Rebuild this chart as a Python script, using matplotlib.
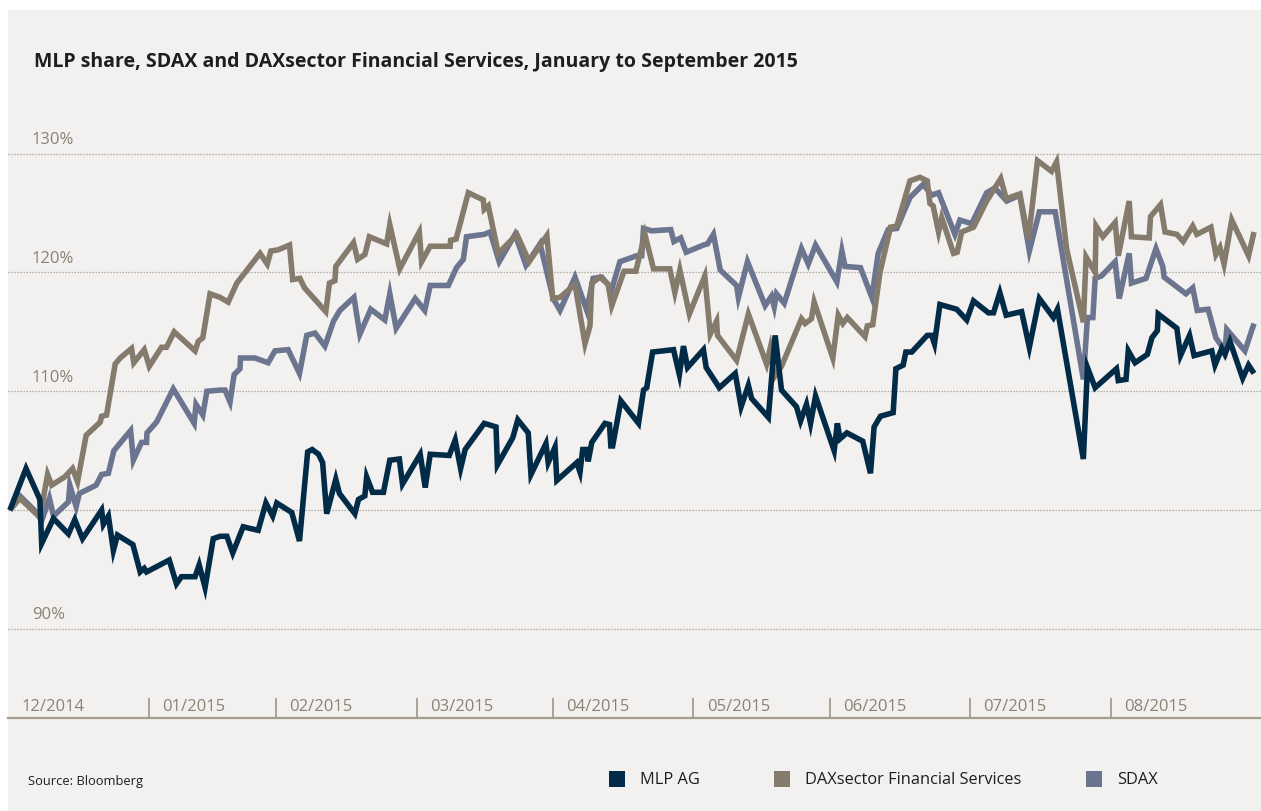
import matplotlib
matplotlib.use("Agg")
import matplotlib.pyplot as plt
import matplotlib.patches as mpatches
import matplotlib.transforms as mtransforms

plt.rcParams["font.family"] = ["Open Sans", "DejaVu Sans"]

# Days counted from 31 Dec 2014, values in % of the start level
mlp_days = [1.4, 4.95, 8.0, 8.4, 11.0, 14.3, 15.7, 17.4, 21.6, 22.0, 23.1, 24.2, 25.1, 28.5, 30.1, 31.0,
            31.5, 36.5, 38.1, 39.2, 42.2, 43.1, 44.4, 46.2, 47.7, 49.2, 50.5, 52.8, 56.1, 57.8, 59.3, 60.2,
            63.5, 65.2, 67.0, 68.0, 69.4, 70.3, 71.2, 73.2, 74.0, 77.4, 78.2, 79.6, 80.0, 81.3, 83.7, 85.1,
            87.2, 87.9, 91.8, 92.9, 94.0, 98.2, 99.5, 100.7, 101.7, 105.9, 108.5, 108.8, 112.2, 113.3, 115.6,
            116.2, 119.5, 120.0, 121.5, 121.9, 126.3, 127.0, 127.6, 128.5, 128.8, 129.6, 132.5, 133.5, 133.8,
            134.2, 136.0, 139.9, 141.0, 141.7, 143.0, 147.6, 148.9, 149.8, 150.7, 154.2, 154.8, 157.7, 161.2,
            162.5, 164.1, 164.8, 168.5, 170.0, 171.4, 174.7, 175.6, 176.9, 177.8, 178.9, 183.0, 183.7, 184.3,
            185.8, 189.3, 191.0, 191.8, 193.2, 196.0, 196.6, 198.2, 198.8, 200.1, 203.5, 204.5, 205.1, 206.3,
            210.0, 212.2, 213.7, 217.0, 218.1, 219.5, 220.9, 224.3, 226.0, 228.2, 231.3, 232.2, 237.9, 238.8,
            240.5, 245.2, 245.6, 247.3, 247.8, 249.3, 252.0, 253.0, 254.2, 254.4, 258.5, 259.3, 261.3, 262.3,
            266.2, 266.9, 268.4, 269.1, 270.2, 273.0, 274.3, 275.5]
mlp_vals = [100.0, 103.5, 100.9, 97.2, 99.3, 98.0, 99.2, 97.6, 100.0, 98.8, 99.5, 96.6, 97.9, 97.1, 94.8, 95.1,
            94.8, 95.8, 93.8, 94.4, 94.4, 95.4, 93.5, 97.6, 97.8, 97.8, 96.4, 98.6, 98.3, 100.6, 99.5, 100.6,
            99.8, 97.4, 104.9, 105.1, 104.7, 104.0, 99.7, 102.6, 101.4, 99.7, 100.9, 101.2, 102.8, 101.5, 101.5, 104.2,
            104.3, 102.2, 104.7, 101.9, 104.7, 104.6, 105.9, 103.5, 105.1, 107.3, 107.0, 103.8, 106.1, 107.6, 106.5,
            103.0, 105.6, 104.0, 105.3, 102.5, 104.0, 103.2, 105.1, 105.1, 104.1, 105.7, 107.3, 107.2, 105.4,
            105.4, 109.2, 107.3, 110.1, 110.3, 113.3, 113.5, 111.4, 113.8, 112.0, 113.5, 112.0, 110.3, 111.5,
            108.7, 110.5, 109.4, 107.8, 114.7, 110.1, 108.7, 107.5, 108.9, 107.3, 109.6, 105.0, 107.3, 106.0,
            106.5, 105.8, 103.1, 107.0, 107.9, 108.2, 111.9, 112.2, 113.3, 113.3, 114.7, 114.7, 114.0, 117.3,
            116.9, 116.0, 117.6, 116.6, 116.6, 118.3, 116.4, 116.7, 113.7, 117.8, 116.2, 116.9, 104.3, 112.0,
            110.3, 111.9, 110.9, 111.0, 113.4, 112.4, 113.1, 114.5, 115.1, 116.5, 115.3, 113.0, 114.7, 113.0,
            113.4, 112.2, 113.6, 113.1, 114.2, 111.1, 112.2, 111.5]

sdax_days = [1.4, 3.6, 7.3, 8.4, 10.1, 11.0, 14.3, 14.6, 16.0, 16.7, 20.4, 21.6, 23.1, 24.3, 28.0, 28.6,
             30.4, 31.5, 31.6, 33.7, 37.4, 42.0, 42.4, 43.9, 44.8, 47.7, 48.8, 49.9, 50.8, 52.1, 52.2, 55.4,
             58.3, 59.8, 62.7, 65.2, 66.8, 68.6, 70.8, 72.7, 74.1, 77.2, 78.5, 80.9, 84.0, 85.1, 86.5, 90.7,
             92.8, 94.0, 98.0, 99.8, 101.3, 102.0, 105.9, 107.2, 109.2, 112.7, 115.1, 118.2, 121.1, 122.6,
             125.9, 128.5, 129.9, 131.8, 134.0, 135.8, 139.5, 140.6, 141.0, 142.8, 147.0, 147.7, 149.2, 150.4,
             154.2, 155.1, 156.4, 157.9, 161.5, 161.9, 163.9, 167.8, 169.2, 169.8, 170.3, 172.0, 175.8, 177.3,
             178.9, 183.6, 184.7, 185.4, 188.8, 191.3, 192.7, 194.9, 196.8, 199.7, 202.6, 204.5, 206.0, 209.6,
             210.7, 213.3, 216.6, 218.4, 221.0, 223.9, 226.0, 228.2, 231.7, 237.9, 238.8, 240.0, 240.5, 241.9,
             244.9, 245.8, 248.0, 248.5, 251.7, 253.9, 255.4, 255.7, 260.5, 262.0, 263.0, 265.4, 267.1, 269.1,
             269.5, 273.5, 275.5]
sdax_vals = [100.0, 101.2, 99.8, 99.1, 101.0, 99.5, 100.7, 102.1, 100.3, 101.4, 102.1, 103.0, 103.1, 105.0, 106.7, 104.2,
             105.7, 105.7, 106.5, 107.4, 110.2, 107.3, 108.9, 108.0, 110.0, 110.1, 110.1, 109.1, 111.4, 111.9, 112.8, 112.8,
             112.4, 113.4, 113.5, 111.5, 114.7, 114.9, 113.8, 115.9, 116.8, 117.9, 114.8, 116.9, 116.0, 118.2, 115.3, 117.8,
             116.8, 118.9, 118.9, 120.4, 121.1, 123.0, 123.2, 123.4, 120.9, 123.2, 120.6, 122.4, 117.8, 116.8,
             119.6, 116.8, 119.5, 119.6, 118.6, 120.9, 121.4, 121.4, 123.7, 123.5, 123.6, 122.6, 122.9, 121.7,
             122.3, 122.4, 123.2, 120.2, 118.9, 117.9, 120.9, 117.2, 118.0, 117.1, 118.2, 117.4, 122.0, 120.7,
             122.3, 119.2, 121.8, 120.5, 120.4, 117.9, 121.6, 123.6, 123.7, 126.3, 127.4, 126.5, 126.7, 123.2,
             124.4, 124.1, 126.7, 127.1, 126.0, 126.5, 121.8, 125.1, 125.1, 111.0, 116.2, 116.2, 119.5, 119.7,
             120.9, 117.8, 121.6, 119.1, 119.5, 122.0, 120.5, 119.6, 118.2, 118.7, 116.8, 116.9, 114.5, 113.4,
             115.2, 113.4, 115.7]

dax_days = [1.4, 3.6, 8.0, 9.7, 10.6, 13.5, 15.2, 16.3, 18.2, 21.3, 21.6, 22.7, 24.6, 25.7, 28.2, 28.7,
            31.0, 32.1, 34.8, 35.9, 37.6, 42.2, 42.9, 43.9, 45.5, 47.7, 49.5, 51.4, 56.5, 58.1, 58.9, 60.5,
            63.0, 63.7, 65.3, 66.3, 71.0, 71.8, 73.0, 73.2, 77.1, 78.0, 79.6, 80.6, 84.4, 85.1, 87.3, 91.6,
            92.1, 94.0, 98.4, 98.5, 99.7, 102.4, 105.7, 105.9, 106.8, 109.0, 113.1, 115.8, 119.7, 121.0,
            122.6, 125.9, 128.1, 129.2, 129.6, 131.4, 133.2, 134.0, 136.7, 139.3, 141.3, 143.2, 146.8, 147.9,
            149.0, 151.1, 154.5, 155.7, 157.1, 157.3, 161.5, 164.1, 168.1, 168.9, 169.8, 171.4, 175.8, 176.6,
            178.0, 178.6, 182.7, 183.9, 184.9, 185.9, 189.8, 190.3, 191.5, 193.1, 195.4, 196.8, 199.7, 201.9,
            203.5, 204.1, 204.8, 206.0, 206.7, 209.3, 210.1, 211.1, 213.7, 216.6, 219.7, 220.9, 223.9, 225.8,
            227.8, 230.9, 232.0, 234.2, 237.9, 238.5, 240.5, 240.7, 242.2, 244.9, 245.6, 248.0, 248.5, 252.4,
            252.7, 254.9, 255.9, 258.5, 259.9, 262.0, 262.9, 266.0, 267.1, 268.0, 268.9, 270.6, 274.3, 275.5]
dax_vals = [100.0, 101.0, 99.4, 103.0, 102.1, 102.8, 103.5, 102.4, 106.3, 107.4, 107.9, 108.0, 112.3, 112.8, 113.6, 112.4,
            113.5, 112.1, 113.7, 113.7, 115.0, 113.4, 114.2, 114.5, 118.2, 117.9, 117.5, 119.1, 121.6, 120.7, 121.8, 121.9,
            122.3, 119.4, 119.5, 118.7, 116.7, 119.1, 119.3, 120.5, 122.5, 121.1, 121.5, 123.0, 122.4, 124.0, 120.3, 123.4,
            120.9, 122.2, 122.2, 122.7, 122.8, 126.7, 126.1, 125.3, 125.6, 121.6, 123.2, 120.9, 123.1, 117.8,
            117.9, 119.0, 114.0, 115.5, 119.1, 119.6, 119.0, 117.2, 120.1, 120.1, 123.2, 120.3, 120.3, 118.3,
            120.2, 116.5, 119.7, 114.8, 115.9, 114.7, 112.6, 116.5, 112.3, 113.6, 111.2, 112.1, 116.1, 115.7,
            116.1, 117.5, 112.8, 116.4, 115.7, 116.2, 114.6, 115.5, 115.6, 120.0, 123.8, 123.9, 127.7, 128.0,
            127.7, 125.8, 125.6, 123.4, 124.6, 121.6, 121.7, 123.4, 123.8, 126.0, 127.9, 126.2, 126.6, 122.8,
            129.4, 128.5, 129.3, 122.0, 115.8, 121.3, 120.0, 123.9, 123.0, 124.2, 121.4, 126.0, 123.0, 122.9,
            124.7, 125.7, 123.4, 123.2, 122.6, 123.9, 123.2, 123.8, 121.5, 122.1, 120.7, 124.4, 121.4, 123.4]

grid_levels = [90, 100, 110, 120, 130]
label_levels = [90, 110, 120, 130]
month_starts = [32, 60, 91, 121, 152, 182, 213, 244]
month_labels = ["12/2014", "01/2015", "02/2015", "03/2015", "04/2015",
                "05/2015", "06/2015", "07/2015", "08/2015"]

C_MLP = "#022b47"
C_DAX = "#857b6c"
C_SDAX = "#6c758f"
C_BG = "#f2f1ef"
C_TXT = "#8b8273"
C_AXIS = "#a49b8c"

W, H = 1261, 812
fig = plt.figure(figsize=(W / 100, H / 100), dpi=100)
fig.patch.set_facecolor("white")
fig.patches.append(mpatches.Rectangle((8 / W, 0), 1 - 8 / W, 1 - 11 / H, transform=fig.transFigure,
                                      facecolor=C_BG, edgecolor="none", zorder=-10))

ax = fig.add_axes([0, 0, 1, 1])
ax.set_facecolor("none")
ax.set_xlim(-0.78, 277.04)
ax.set_ylim(74.69, 143.0)
ax.axis("off")

def fx(px):
    return px / W

def fy(py):
    return 1 - py / H

# dotted grid
for lv in grid_levels:
    ax.axhline(lv, xmin=fx(8), xmax=1, color="#a29b90", linewidth=0.9,
               linestyle=(0, (1, 1.4)), zorder=1)
for lv in label_levels:
    ax.annotate(f"{lv}%", xy=(fx(32), lv), xycoords=("figure fraction", "data"),
                xytext=(0, 10.6), textcoords="offset points", ha="left", va="center",
                fontsize=12, color=C_TXT)

# lines
common = dict(linewidth=4.0, solid_joinstyle="miter", solid_capstyle="butt", zorder=3)
ax.plot(sdax_days, sdax_vals, color=C_SDAX, **common)
ax.plot(dax_days, dax_vals, color=C_DAX, **common)
ax.plot(mlp_days, mlp_vals, color=C_MLP, **common)

# x axis with month separators
fig.add_artist(plt.Line2D([fx(8), 1], [fy(719), fy(719)], color=C_AXIS, linewidth=1.6))
trans = mtransforms.blended_transform_factory(ax.transData, fig.transFigure)
for d in month_starts:
    ax.plot([d, d], [fy(700), fy(719)], transform=trans, color=C_AXIS, linewidth=1.3, clip_on=False)
fig.text(fx(22), fy(707), month_labels[0], ha="left", va="center", fontsize=12, color=C_TXT)
for d, lab in zip(month_starts, month_labels[1:]):
    ax.annotate(lab, xy=(d, fy(707)), xycoords=trans, xytext=(9.5, 0), textcoords="offset points",
                ha="left", va="center", fontsize=12, color=C_TXT)

# title and source
fig.text(fx(34), fy(62), "MLP share, SDAX and DAXsector Financial Services, January to September 2015",
         ha="left", va="center", fontsize=14, fontweight="bold", color="#1e1e1e")
fig.text(fx(28), fy(782), "Source: Bloomberg", ha="left", va="center", fontsize=9.3, color="#1e1e1e")

# legend
legend_items = [("MLP AG", C_MLP, 609), ("DAXsector Financial Services", C_DAX, 774), ("SDAX", C_SDAX, 1086)]
for name, col, x0 in legend_items:
    fig.patches.append(mpatches.Rectangle((fx(x0), fy(788)), 16 / W, 16 / H, transform=fig.transFigure,
                                          facecolor=col, edgecolor="none"))
    fig.text(fx(x0 + 31), fy(780), name, ha="left", va="center", fontsize=11.8, color="#1e1e1e")

fig.savefig("out.png", dpi=100, facecolor=fig.get_facecolor())
